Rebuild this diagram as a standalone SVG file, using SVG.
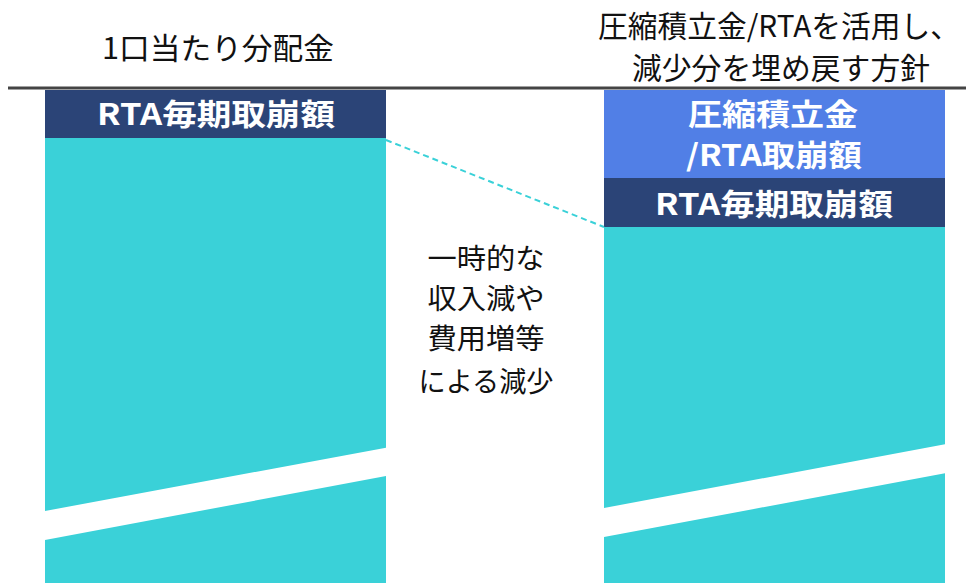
<svg xmlns="http://www.w3.org/2000/svg" width="966" height="583" viewBox="0 0 966 583">
<style>
.t{font-family:"Noto Sans CJK JP","Noto Sans",sans-serif;font-size:30px;fill:#111;text-anchor:middle}
.m{font-family:"Noto Sans CJK JP","Noto Sans",sans-serif;font-size:28px;fill:#111;text-anchor:middle}
.b{font-family:"Noto Sans CJK JP","Noto Sans",sans-serif;font-size:30px;font-weight:bold;fill:#fff;text-anchor:middle}
.teal{fill:#3AD1D8}
.navy{fill:#2B4477}
.blue{fill:#517FE6}
</style>
<rect width="966" height="583" fill="#fff"/>
<line x1="8" y1="88" x2="966" y2="88" stroke="#444" stroke-width="3"/>
<g id="titles">
<text class="t" x="218" y="59" textLength="232" lengthAdjust="spacingAndGlyphs">1口当たり分配金</text>
<text class="t" x="779" y="37" textLength="362" lengthAdjust="spacingAndGlyphs">圧縮積立金/RTAを活用し、</text>
<text class="t" x="781" y="79" textLength="298" lengthAdjust="spacingAndGlyphs">減少分を埋め戻す方針</text>
</g>
<g id="left-column">
<path class="teal" d="M45 138 H386 V447.7 L45 511 Z"/>
<path class="teal" d="M45 540 L386 476 V583 H45 Z"/>
<rect class="navy" x="45" y="90" width="341" height="48"/>
<text class="b" x="216" y="125" textLength="238" lengthAdjust="spacingAndGlyphs">RTA毎期取崩額</text>
</g>
<g id="right-column">
<path class="teal" d="M604 227 H945 V444.3 L604 508 Z"/>
<path class="teal" d="M604 537 L945 473.3 V583 H604 Z"/>
<rect class="blue" x="604" y="90" width="341" height="88"/>
<rect class="navy" x="604" y="178" width="341" height="49"/>
<text class="b" x="773" y="125" textLength="170" lengthAdjust="spacingAndGlyphs">圧縮積立金</text>
<text class="b" x="774" y="166" textLength="176" lengthAdjust="spacingAndGlyphs">/RTA取崩額</text>
<text class="b" x="774" y="215" textLength="238" lengthAdjust="spacingAndGlyphs">RTA毎期取崩額</text>
</g>
<g id="middle-note">
<text class="m" x="486" y="269" textLength="117" lengthAdjust="spacingAndGlyphs">一時的な</text>
<text class="m" x="486" y="309" textLength="117" lengthAdjust="spacingAndGlyphs">収入減や</text>
<text class="m" x="486" y="349" textLength="117" lengthAdjust="spacingAndGlyphs">費用増等</text>
<text class="m" x="486" y="392" textLength="135" lengthAdjust="spacingAndGlyphs">による減少</text>
</g>
<g id="connectors">
<line x1="386" y1="140" x2="604" y2="227" stroke="#3AD1D8" stroke-width="2" stroke-dasharray="6 4"/>
</g>
</svg>
